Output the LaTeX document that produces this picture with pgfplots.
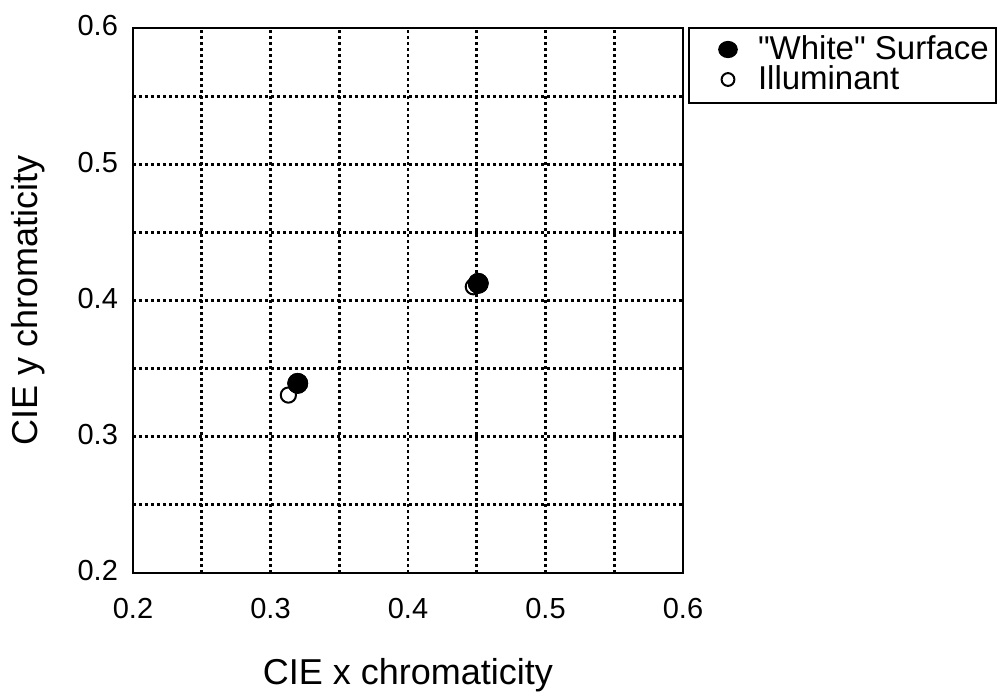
\documentclass[border=0pt]{standalone}
\usepackage{pgfplots}
\pgfplotsset{compat=1.18}
\usepackage{fontspec}
\setmainfont{Liberation Sans}[Ligatures=TeXOff]
\begin{document}
\begin{tikzpicture}[x=1pt,y=1pt]
\begin{axis}[
  at={(0,0)}, anchor=origin,
  scale only axis, width=275pt, height=272.5pt,
  xmin=0.2, xmax=0.6, ymin=0.2, ymax=0.6,
  xtick={0.2,0.3,0.4,0.5,0.6}, ytick={0.2,0.3,0.4,0.5,0.6},
  minor xtick={0.25,0.35,0.45,0.55}, minor ytick={0.25,0.35,0.45,0.55},
  grid=both,
  major grid style={black, line width=1.4pt, dash pattern=on 1.5pt off 1.5pt},
  minor grid style={black, line width=1.4pt, dash pattern=on 1.5pt off 1.5pt},
  major tick length=0pt, minor tick length=0pt,
  axis line style={black, line width=0.6pt},
  /pgf/number format/assume math mode=true,
  /pgf/number format/fixed, /pgf/number format/precision=1,
  /pgf/number format/fixed zerofill,
  tick label style={font=\fontsize{14.5}{17}\selectfont},
  xticklabel style={yshift=-9pt},
  yticklabel style={xshift=-4pt, yshift=1pt},
  xlabel={CIE x chromaticity}, ylabel={CIE y chromaticity},
  label style={font=\fontsize{18}{21}\selectfont},
  xlabel style={yshift=-13pt},
  ylabel style={yshift=9.5pt},
  legend style={at={(rel axis cs:1,1)}, anchor=north west, xshift=2.5pt, yshift=0.5pt,
    draw=black, line width=1pt, font=\fontsize{16.5}{18}\selectfont,
    inner xsep=7pt, inner ysep=3.75pt, row sep=0pt, column sep=10pt,
    nodes={inner xsep=0pt, inner ysep=0pt, text height=12pt, text depth=3pt, anchor=west}},
  legend cell align=left,
  clip=false,
]
\addplot[only marks, mark=*, mark size=5pt, draw=black, fill=black,
  legend image code/.code={\fill[black] (0pt,0.5pt) ellipse (4.4pt and 3.8pt); \path (-12pt,0pt) (4.5pt,0pt);}]
  coordinates {(0.3198,0.3392) (0.4511,0.4126)};
\addlegendentry{\makebox[112pt][l]{"White" Surface}}
\addplot[only marks, mark=o, mark size=3.8pt, line width=1pt, draw=black, fill=white, mark options={fill=white},
  legend image code/.code={\draw[black, line width=1pt, fill=white] (0pt,0.5pt) circle (3.2pt); \path (-12pt,0pt) (4.5pt,0pt);}]
  coordinates {(0.3130,0.3306) (0.4475,0.4101)};
\addlegendentry{\makebox[112pt][l]{Illuminant}}
\addplot[only marks, mark=*, mark size=5pt, draw=black, fill=black, forget plot] coordinates {(0.3198,0.3392) (0.4511,0.4126)};
\end{axis}
\pgfresetboundingbox
\path (-66.5pt,-60pt) rectangle (433.5pt,286.5pt);
\end{tikzpicture}
\end{document}
